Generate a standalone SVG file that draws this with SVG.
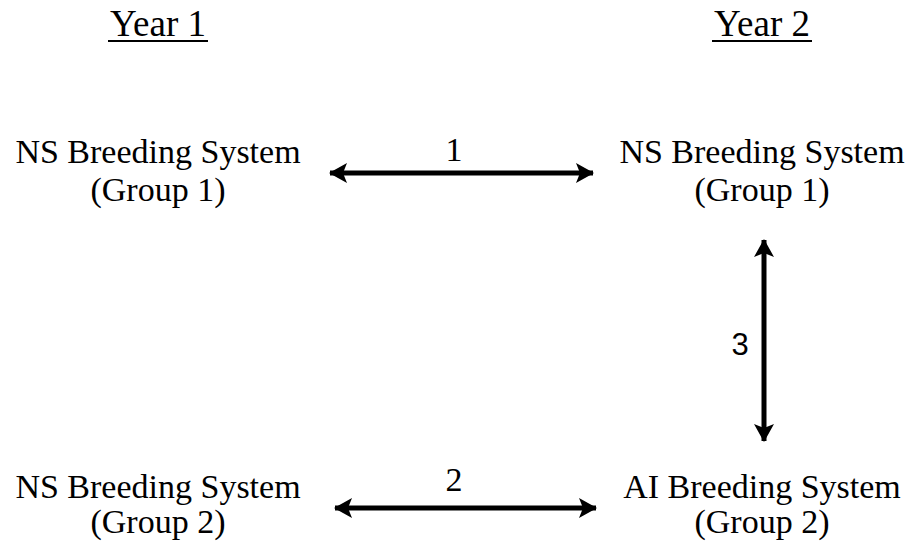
<svg xmlns="http://www.w3.org/2000/svg" width="912" height="545" viewBox="0 0 912 545">
<style>
.t{font-family:"Liberation Serif","Times New Roman",serif;font-size:34px;fill:#000;text-anchor:middle}
.y{font-family:"Liberation Serif","Times New Roman",serif;font-size:37px;fill:#000;text-anchor:middle}
.n{font-family:"Liberation Serif","Times New Roman",serif;font-size:34px;fill:#000;text-anchor:middle}
.s{font-family:"Liberation Sans",Arial,sans-serif;font-size:31px;fill:#000;text-anchor:middle}
.c{stroke:#000;stroke-width:5;fill:none}
</style>
<defs>
<marker id="ah" markerUnits="userSpaceOnUse" markerWidth="20" markerHeight="20" viewBox="0 0 18 20" refX="17" refY="10" orient="auto-start-reverse">
<path d="M0,0 L18,10 L0,20 L4,10 Z" fill="#000"/>
</marker>
</defs>
<rect width="912" height="545" fill="#fff"/>
<g id="year1">
<text class="y" x="158" y="36">Year 1</text>
<line x1="108" y1="41" x2="208" y2="41" stroke="#000" stroke-width="2"/>
</g>
<g id="year2">
<text class="y" x="762" y="36">Year 2</text>
<line x1="712" y1="41" x2="812" y2="41" stroke="#000" stroke-width="2"/>
</g>
<g id="ns1y1">
<text class="t" x="158" y="163">NS Breeding System</text>
<text class="t" x="158" y="201">(Group 1)</text>
</g>
<g id="ns1y2">
<text class="t" x="762" y="163">NS Breeding System</text>
<text class="t" x="762" y="201">(Group 1)</text>
</g>
<g id="ns2y1">
<text class="t" x="158" y="498">NS Breeding System</text>
<text class="t" x="158" y="533">(Group 2)</text>
</g>
<g id="ai2y2">
<text class="t" x="762" y="498">AI Breeding System</text>
<text class="t" x="762" y="533">(Group 2)</text>
</g>
<g id="connectors">
<line class="c" x1="330" y1="173" x2="593" y2="173" marker-start="url(#ah)" marker-end="url(#ah)"/>
<text class="n" x="454" y="161">1</text>
<line class="c" x1="335" y1="508" x2="596" y2="508" marker-start="url(#ah)" marker-end="url(#ah)"/>
<text class="n" x="454" y="491">2</text>
<line class="c" x1="764" y1="240" x2="764" y2="441" marker-start="url(#ah)" marker-end="url(#ah)"/>
<text class="s" x="740" y="355">3</text>
</g>
</svg>
